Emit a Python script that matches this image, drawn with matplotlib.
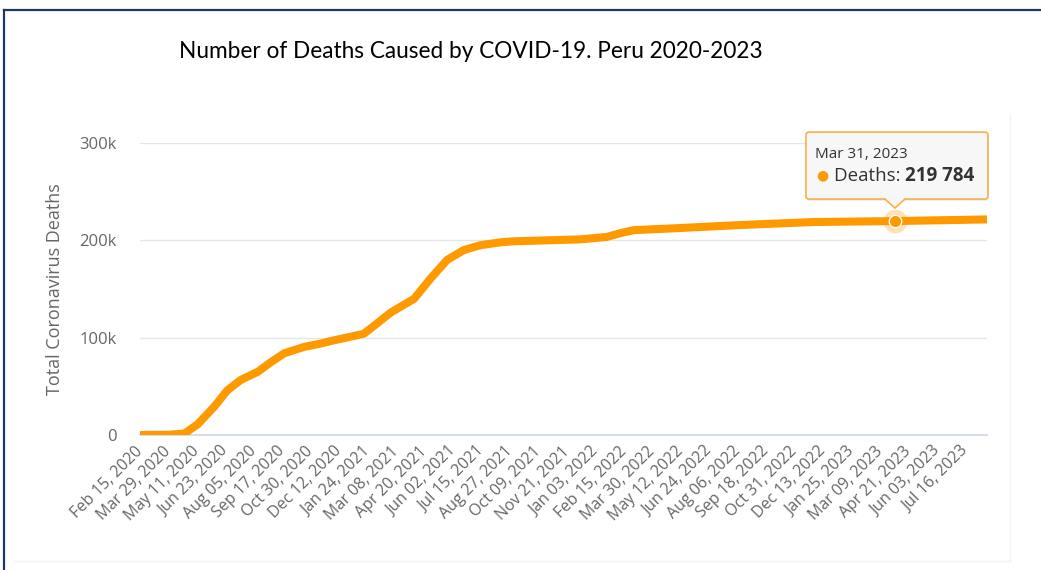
import matplotlib
matplotlib.use("Agg")
import matplotlib.pyplot as plt
import matplotlib.dates as mdates
from matplotlib.patches import FancyBboxPatch, Polygon
from matplotlib.lines import Line2D
from matplotlib.transforms import IdentityTransform
import pandas as pd

# ── Data ──────────────────────────────────────────────────────────────────
dates = [
    "2020-02-15", "2020-03-31", "2020-04-22", "2020-05-12", "2020-06-06",
    "2020-06-26", "2020-07-16", "2020-08-11", "2020-08-31", "2020-09-20",
    "2020-10-20", "2020-11-14", "2020-11-29", "2021-01-18", "2021-02-28",
    "2021-04-04", "2021-04-29", "2021-05-24", "2021-06-18", "2021-07-13",
    "2021-08-13", "2021-09-01", "2021-12-11", "2022-01-20", "2022-02-10",
    "2022-03-02", "2022-04-21", "2022-08-09", "2022-11-28", "2023-03-31",
    "2023-08-17",
]
deaths = [
    0, 300, 1500, 11000, 29000,
    46000, 56500, 65000, 75000, 84000,
    90500, 94000, 96500, 104000, 126000,
    140000, 161000, 180000, 190000, 195000,
    198000, 199000, 201000, 203500, 207500,
    210500, 212000, 215700, 218800, 219784,
    221500,
]

tick_dates = [
    "2020-02-15", "2020-03-29", "2020-05-11", "2020-06-23", "2020-08-05",
    "2020-09-17", "2020-10-30", "2020-12-12", "2021-01-24", "2021-03-08",
    "2021-04-20", "2021-06-02", "2021-07-15", "2021-08-27", "2021-10-09",
    "2021-11-21", "2022-01-03", "2022-02-15", "2022-03-30", "2022-05-12",
    "2022-06-24", "2022-08-06", "2022-09-18", "2022-10-31", "2022-12-13",
    "2023-01-25", "2023-03-09", "2023-04-21", "2023-06-03", "2023-07-16",
]
y_ticks = [0, 100000, 200000, 300000]
y_tick_labels = ["0", "100k", "200k", "300k"]

hover_date = "2023-03-31"
hover_value = 219784

# ── Style ─────────────────────────────────────────────────────────────────
ORANGE = "#ff9900"
GRID   = "#e6e6e6"
AXIS   = "#ccd6eb"
LABEL  = "#666666"
TIP_TX = "#333333"
FONT   = ["Open Sans", "DejaVu Sans"]

plt.rcParams["font.family"] = FONT

W, H = 1041, 570
fig = plt.figure(figsize=(W / 100, H / 100), dpi=100, facecolor="white")
ax = fig.add_axes([140 / W, 135 / H, 847 / W, 292 / H])

x = pd.to_datetime(dates)
ax.plot(x, deaths, color=ORANGE, linewidth=5.8, solid_capstyle="butt",
        solid_joinstyle="round", zorder=3)

ax.set_xlim(pd.Timestamp("2020-02-15"), pd.Timestamp("2023-08-17"))
ax.set_ylim(0, 300000)

ax.set_yticks(y_ticks)
ax.set_yticklabels(y_tick_labels)
ax.set_xticks(pd.to_datetime(tick_dates))
ax.xaxis.set_major_formatter(mdates.DateFormatter("%b %d, %Y"))
ax.tick_params(axis="y", length=0, pad=17, labelsize=12, labelcolor=LABEL)
ax.tick_params(axis="x", length=0, pad=10, labelsize=11.5, labelcolor=LABEL)
for lbl in ax.get_xticklabels():
    lbl.set_rotation(45)
    lbl.set_ha("right")
    lbl.set_va("center")
    lbl.set_rotation_mode("anchor")

for v in y_ticks[1:]:
    ax.axhline(v, color=GRID, linewidth=1, zorder=1)
for s in ["top", "right", "left"]:
    ax.spines[s].set_visible(False)
ax.spines["bottom"].set_color(AXIS)
ax.spines["bottom"].set_linewidth(1.2)

# hover marker with halo
hx = mdates.date2num(pd.Timestamp(hover_date))
ax.plot(hx, hover_value, "o", ms=17, color=ORANGE, alpha=0.3, mew=0, zorder=4)
ax.plot(hx, hover_value, "o", ms=9, color=ORANGE, mec="white", mew=1, zorder=5)

fig.text(471 / W, 1 - 52 / H, "Number of Deaths Caused by COVID-19. Peru 2020-2023",
         family=["Lato", "DejaVu Sans"], fontsize=16.3, color="black",
         ha="center", va="center")
fig.text(55 / W, 1 - 289 / H, "Total Coronavirus Deaths", rotation=90,
         fontsize=13, color=LABEL, ha="center", va="center")

# ── Tooltip (pixel offsets from the hovered point) ────────────────────────
px, py = ax.transData.transform((hx, hover_value))
idt = IdentityTransform()
shadow = FancyBboxPatch((px - 88, py + 20), 182, 67,
                        boxstyle="round,pad=0,rounding_size=3",
                        facecolor="#000000", alpha=0.07, edgecolor="none",
                        transform=idt)
box = FancyBboxPatch((px - 89, py + 22), 182, 67,
                     boxstyle="round,pad=0,rounding_size=3",
                     facecolor="#f7f7f7", edgecolor="#f7b04a", linewidth=1.2,
                     transform=idt)
fig.add_artist(shadow)
fig.add_artist(box)
tri = Polygon([(px - 10, py + 23), (px, py + 13), (px + 10, py + 23)],
              closed=True, facecolor="#f7f7f7", edgecolor="none", transform=idt)
fig.add_artist(tri)
fig.add_artist(Line2D([px - 10, px, px + 10], [py + 22, py + 13, py + 22],
                      color="#f7b04a", linewidth=1.2, transform=idt))

fig.text((px - 80) / W, (py + 67) / H, "Mar 31, 2023", fontsize=11,
         color=TIP_TX, ha="left", va="center")
fig.text((px - 73) / W, (py + 45) / H, "\u25cf", fontsize=10, color=ORANGE,
         ha="center", va="center")
t1 = fig.text((px - 61) / W, (py + 45) / H, "Deaths: ", fontsize=13.5,
              color=TIP_TX, ha="left", va="center")
r = fig.canvas.get_renderer()
bb = t1.get_window_extent(renderer=r)
fig.text(bb.x1 / W, (py + 45) / H, f"{hover_value:,}".replace(",", " "),
         fontsize=13.5, fontweight="bold", color=TIP_TX, ha="left", va="center")

# ── Frame ─────────────────────────────────────────────────────────────────
fig.add_artist(Line2D([4, W], [H - 10, H - 10], color="#1f3864",
                      linewidth=1.6, transform=idt))
fig.add_artist(Line2D([4, 4], [0, H - 10], color="#1f3864",
                      linewidth=1.6, transform=idt))
fig.add_artist(Line2D([1010, 1010], [9, H - 115], color="#f2f2f2",
                      linewidth=1, transform=idt))
fig.add_artist(Line2D([14, 1010], [9, 9], color="#f2f2f2",
                      linewidth=1, transform=idt))

fig.savefig("out.png", dpi=100, facecolor="white")
